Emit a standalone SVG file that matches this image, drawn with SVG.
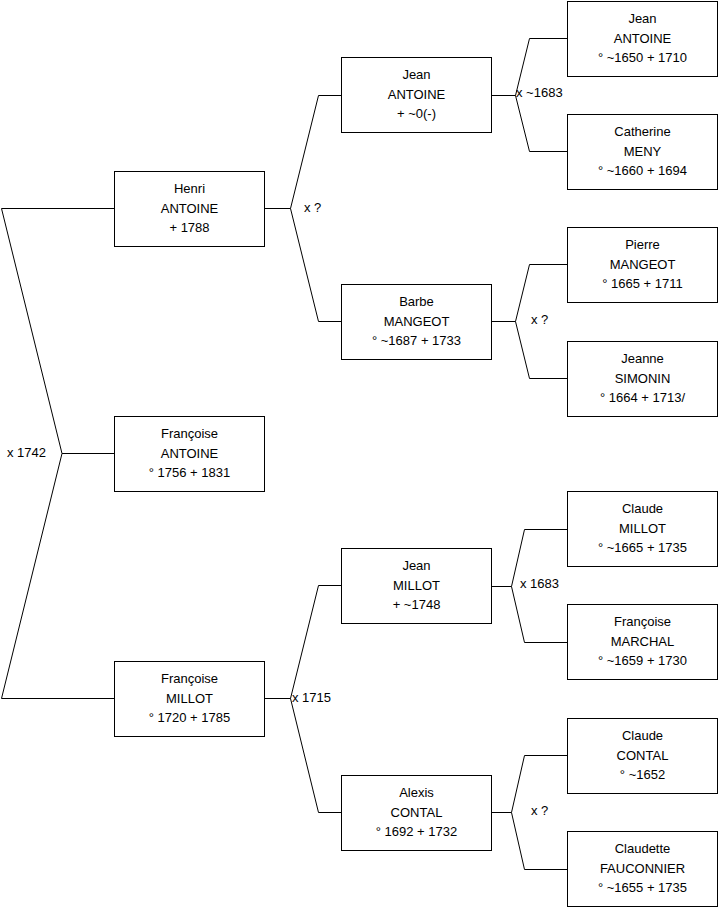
<svg xmlns="http://www.w3.org/2000/svg" width="719" height="908" viewBox="0 0 719 908">
<style>
.box{fill:#fff;stroke:#000;stroke-width:1}
.t{font-family:"Liberation Sans",Arial,sans-serif;font-size:13px;fill:#000;text-anchor:middle}
.l{font-family:"Liberation Sans",Arial,sans-serif;font-size:13px;fill:#000}
.c{fill:none;stroke:#000;stroke-width:1}
</style>
<rect width="719" height="908" fill="#fff"/>
<g id="connectors">
<polyline class="c" points="114,208.5 1.5,208.5 62,453.5 1.5,698.5 114,698.5"/>
<line class="c" x1="62" y1="453.5" x2="114" y2="453.5"/>
<polyline class="c" points="341,95.5 318.5,95.5 290.5,208.5 318.5,321.5 341,321.5"/>
<line class="c" x1="265" y1="208.5" x2="290.5" y2="208.5"/>
<polyline class="c" points="341,585.5 318.5,585.5 290.5,698.5 318.5,812.5 341,812.5"/>
<line class="c" x1="265" y1="698.5" x2="290.5" y2="698.5"/>
<polyline class="c" points="567,38.5 529.5,38.5 515.5,95.5 529.5,151.5 567,151.5"/>
<line class="c" x1="492" y1="95.5" x2="515.5" y2="95.5"/>
<polyline class="c" points="567,264.5 529.5,264.5 515.5,321.5 529.5,378.5 567,378.5"/>
<line class="c" x1="492" y1="321.5" x2="515.5" y2="321.5"/>
<polyline class="c" points="567,529.5 524.5,529.5 511.5,586.5 524.5,642.5 567,642.5"/>
<line class="c" x1="492" y1="586.5" x2="511.5" y2="586.5"/>
<polyline class="c" points="567,755.5 524.5,755.5 511.5,812.5 524.5,869.5 567,869.5"/>
<line class="c" x1="492" y1="812.5" x2="511.5" y2="812.5"/>
<text class="l" x="7" y="457">x 1742</text>
<text class="l" x="304" y="212">x ?</text>
<text class="l" x="292" y="702">x 1715</text>
<text class="l" x="516" y="97">x ~1683</text>
<text class="l" x="531" y="324">x ?</text>
<text class="l" x="520" y="588">x 1683</text>
<text class="l" x="531" y="815">x ?</text>
</g>
<g id="henri"><rect class="box" x="114.5" y="171.5" width="150" height="75"/><text class="t" x="189.5" y="193">Henri</text><text class="t" x="189.5" y="213">ANTOINE</text><text class="t" x="189.5" y="232">+ 1788</text></g>
<g id="francoise_antoine"><rect class="box" x="114.5" y="416.5" width="150" height="75"/><text class="t" x="189.5" y="438">Françoise</text><text class="t" x="189.5" y="458">ANTOINE</text><text class="t" x="189.5" y="477">° 1756 + 1831</text></g>
<g id="francoise_millot"><rect class="box" x="114.5" y="661.5" width="150" height="75"/><text class="t" x="189.5" y="683">Françoise</text><text class="t" x="189.5" y="703">MILLOT</text><text class="t" x="189.5" y="722">° 1720 + 1785</text></g>
<g id="jean_antoine2"><rect class="box" x="341.5" y="57.5" width="150" height="75"/><text class="t" x="416.5" y="79">Jean</text><text class="t" x="416.5" y="99">ANTOINE</text><text class="t" x="416.5" y="118">+ ~0(-)</text></g>
<g id="barbe_mangeot"><rect class="box" x="341.5" y="284.5" width="150" height="75"/><text class="t" x="416.5" y="306">Barbe</text><text class="t" x="416.5" y="326">MANGEOT</text><text class="t" x="416.5" y="345">° ~1687 + 1733</text></g>
<g id="jean_millot"><rect class="box" x="341.5" y="548.5" width="150" height="75"/><text class="t" x="416.5" y="570">Jean</text><text class="t" x="416.5" y="590">MILLOT</text><text class="t" x="416.5" y="609">+ ~1748</text></g>
<g id="alexis_contal"><rect class="box" x="341.5" y="775.5" width="150" height="75"/><text class="t" x="416.5" y="797">Alexis</text><text class="t" x="416.5" y="817">CONTAL</text><text class="t" x="416.5" y="836">° 1692 + 1732</text></g>
<g id="jean_antoine3"><rect class="box" x="567.5" y="1.5" width="150" height="75"/><text class="t" x="642.5" y="23">Jean</text><text class="t" x="642.5" y="43">ANTOINE</text><text class="t" x="642.5" y="62">° ~1650 + 1710</text></g>
<g id="catherine_meny"><rect class="box" x="567.5" y="114.5" width="150" height="75"/><text class="t" x="642.5" y="136">Catherine</text><text class="t" x="642.5" y="156">MENY</text><text class="t" x="642.5" y="175">° ~1660 + 1694</text></g>
<g id="pierre_mangeot"><rect class="box" x="567.5" y="227.5" width="150" height="75"/><text class="t" x="642.5" y="249">Pierre</text><text class="t" x="642.5" y="269">MANGEOT</text><text class="t" x="642.5" y="288">° 1665 + 1711</text></g>
<g id="jeanne_simonin"><rect class="box" x="567.5" y="341.5" width="150" height="75"/><text class="t" x="642.5" y="363">Jeanne</text><text class="t" x="642.5" y="383">SIMONIN</text><text class="t" x="642.5" y="402">° 1664 + 1713/</text></g>
<g id="claude_millot"><rect class="box" x="567.5" y="491.5" width="150" height="75"/><text class="t" x="642.5" y="513">Claude</text><text class="t" x="642.5" y="533">MILLOT</text><text class="t" x="642.5" y="552">° ~1665 + 1735</text></g>
<g id="francoise_marchal"><rect class="box" x="567.5" y="604.5" width="150" height="75"/><text class="t" x="642.5" y="626">Françoise</text><text class="t" x="642.5" y="646">MARCHAL</text><text class="t" x="642.5" y="665">° ~1659 + 1730</text></g>
<g id="claude_contal"><rect class="box" x="567.5" y="718.5" width="150" height="75"/><text class="t" x="642.5" y="740">Claude</text><text class="t" x="642.5" y="760">CONTAL</text><text class="t" x="642.5" y="779">° ~1652</text></g>
<g id="claudette_fauconnier"><rect class="box" x="567.5" y="831.5" width="150" height="75"/><text class="t" x="642.5" y="853">Claudette</text><text class="t" x="642.5" y="873">FAUCONNIER</text><text class="t" x="642.5" y="892">° ~1655 + 1735</text></g>
</svg>
